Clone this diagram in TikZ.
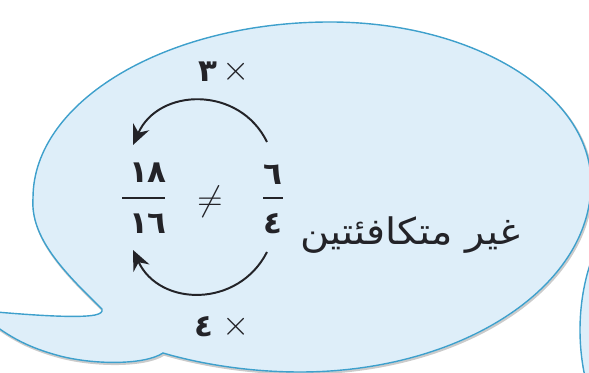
\documentclass[tikz,border=0pt]{standalone}
\usepackage{fontspec}
\newfontfamily\arabicfont[Script=Arabic]{DejaVu Sans}
\newfontfamily\notefont[Script=Arabic, FakeStretch=1.09]{DejaVu Sans}
\TeXXeTstate=1
\usetikzlibrary{arrows.meta}

\definecolor{bubblefill}{RGB}{222,238,249}
\definecolor{bubbleline}{RGB}{62,160,204}
\definecolor{ink}{RGB}{35,35,40}

% outline of the speech bubble, in pixels (origin bottom left)
\newcommand\bubbleoutline{%
  (102,64) .. controls (65,100) and (30,135) .. (33,175)
  .. controls (33,272) and (167,351) .. (330,351)
  .. controls (474,351) and (591,279) .. (591,190)
  .. controls (591,85) and (460,1) .. (300,1)
  .. controls (240,1) and (190,12) .. (163,20)
  .. controls (145,8) and (95,8) .. (60,17)
  .. controls (30,25) and (10,35) .. (-15,55)
  -- (-15,62)
  .. controls (40,57) and (80,55) .. (95,58)
  .. controls (100,59) and (103,61) .. cycle}

\begin{document}
\begin{tikzpicture}[
    x=0.025cm, y=0.025cm,
    >={Stealth[length=5mm,width=4.4mm]},
    bubble/.style={fill=bubblefill, draw=bubbleline, line width=1pt},
    bubble shadow/.style={draw=black!45, line width=1.6pt, opacity=0.45},
    digits/.style={font=\arabicfont\bfseries\fontsize{22}{24}\selectfont, text=ink, inner sep=0pt},
    times/.style={font=\fontsize{30}{32}\selectfont, text=ink, inner sep=0pt},
    note/.style={font=\notefont\fontsize{26}{30}\selectfont, text=ink, inner sep=0pt},
    mularrow/.style={->, line width=1.4pt, draw=ink},
    fracbar/.style={line width=1.4pt, draw=ink}
]
\useasboundingbox (0,0) rectangle (589,373);
\clip (0,0) rectangle (589,373);

% Bubbles
\path[bubble shadow, shift={(1,-1.5)}] \bubbleoutline;
\path[bubble] \bubbleoutline;
\path[bubble] (680,43) ellipse [x radius=100, y radius=150];

% Fractions
\node[digits] (numL) at (148,200) {١٨};
\node[digits] (denL) at (148,149) {١٦};
\node[digits] (numR) at (273,198) {٦};
\node[digits] (denR) at (273,149) {٤};
\draw[fracbar] (122,175) -- (165,175);
\draw[fracbar] (263,175) -- (283,175);
\node[font=\fontsize{24}{26}\selectfont, text=ink, inner sep=0pt] (neq) at (210,171) {$\neq$};

% Multipliers
\node[digits, anchor=east] (three) at (218,301) {٣};
\node[times, anchor=west]  (timesA) at (222,301) {$\times$};
\node[digits, anchor=east] (four)  at (214,46) {٤};
\node[times, anchor=west]  (timesB) at (222,46) {$\times$};

% Arrows from the right fraction to the left one
\draw[mularrow] ([shift={(-6,33)}]numR.center) to[out=116, in=66, looseness=1.2] ([shift={(-15,28)}]numL.center);
\draw[mularrow] ([shift={(-6,-28)}]denR.center) to[out=-117, in=-65, looseness=1.2] ([shift={(-15,-26)}]denL.center);

% Verdict
\node[note, anchor=east] (verdict) at (521,138) {\beginR غير متكافئتين\endR};

\end{tikzpicture}
\end{document}
